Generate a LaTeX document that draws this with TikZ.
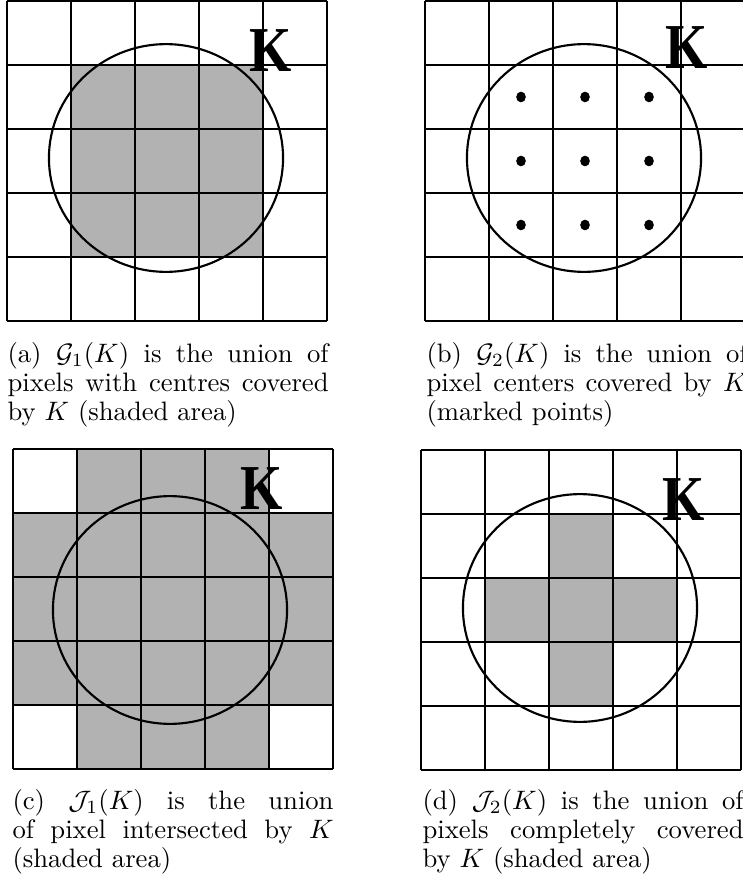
\documentclass[tikz,border=0pt]{standalone}
\usepackage{amsmath,amssymb}
\usepackage{fontspec}
\newfontfamily\kfont{Liberation Serif}
\usetikzlibrary{positioning}
\definecolor{pixgray}{gray}{0.7}
\tikzset{
  pixline/.style={line width=0.75pt},
  shaded/.style={fill=pixgray},
  body/.style={line width=0.8pt},
  centre/.style={fill=black},
  klabel/.style={inner sep=0pt,font=\kfont\bfseries\fontsize{24}{24}\selectfont},
  capt/.style={text width=120.4pt,align=justify,anchor=base west,inner sep=0pt,
    font=\fontsize{10}{11}\selectfont},
}

\begin{document}
\begin{tikzpicture}[x=0.375pt,y=-0.375pt]
  \useasboundingbox (0,0) rectangle (742,884);

  \begin{scope}[shift={(7,1)}]
    \fill[shaded] (64,64) rectangle (256,256);
    \foreach \i in {0,...,5} {
      \draw[pixline] (64*\i,0) -- (64*\i,320);
      \draw[pixline] (0,64*\i) -- (320,64*\i);
    }
    \draw[body] (159,157) ellipse [x radius=43.9pt,y radius=42.7pt];
    \node[klabel] (ka) at (264,50) {\scalebox{0.85}[1]{K}};
  \end{scope}
  \node[capt] (capa) at (7,362)
    {(a) $\mathcal{G}_1(K)$ is the union of\linebreak pixels with centres covered\linebreak by $K$ (shaded area)};

  \begin{scope}[shift={(425,1)}]
    \foreach \i in {0,...,5} {
      \draw[pixline] (64*\i,0) -- (64*\i,320);
      \draw[pixline] (0,64*\i) -- (320,64*\i);
    }
    \foreach \i in {1,2,3}
      \foreach \j in {1,2,3}
        \fill[centre] (32+64*\i,32+64*\j) circle [x radius=1.8pt,y radius=2pt];
    \draw[body] (159,157) ellipse [x radius=43.9pt,y radius=42.7pt];
    \node[klabel] (kb) at (262,47) {\scalebox{0.85}[1]{K}};
  \end{scope}
  \node[capt] (capb) at (426,362)
    {(b) $\mathcal{G}_2(K)$ is the union of\linebreak pixel centers covered by $K$\linebreak (marked points)};

  \begin{scope}[shift={(13,449)}]
    \fill[shaded] (64,0) rectangle (256,320);
    \fill[shaded] (0,64) rectangle (320,256);
    \foreach \i in {0,...,5} {
      \draw[pixline] (64*\i,0) -- (64*\i,320);
      \draw[pixline] (0,64*\i) -- (320,64*\i);
    }
    \draw[body] (157,161) ellipse [x radius=43.9pt,y radius=42.7pt];
    \node[klabel] (kc) at (249,40) {\scalebox{0.85}[1]{K}};
  \end{scope}
  \node[capt] (capc) at (12,809)
    {(c) $\mathcal{J}_1(K)$ is the union\linebreak of pixel intersected by $K$\linebreak (shaded area)};

  \begin{scope}[shift={(421,450)}]
    \fill[shaded] (128,64) rectangle (192,256);
    \fill[shaded] (64,128) rectangle (256,192);
    \foreach \i in {0,...,5} {
      \draw[pixline] (64*\i,0) -- (64*\i,320);
      \draw[pixline] (0,64*\i) -- (320,64*\i);
    }
    \draw[body] (159,158) ellipse [x radius=43.9pt,y radius=42.7pt];
    \node[klabel] (kd) at (263,50) {\scalebox{0.85}[1]{K}};
  \end{scope}
  \node[capt] (capd) at (422,809)
    {(d) $\mathcal{J}_2(K)$ is the union of\linebreak pixels completely covered\linebreak by $K$ (shaded area)};
\end{tikzpicture}
\end{document}
